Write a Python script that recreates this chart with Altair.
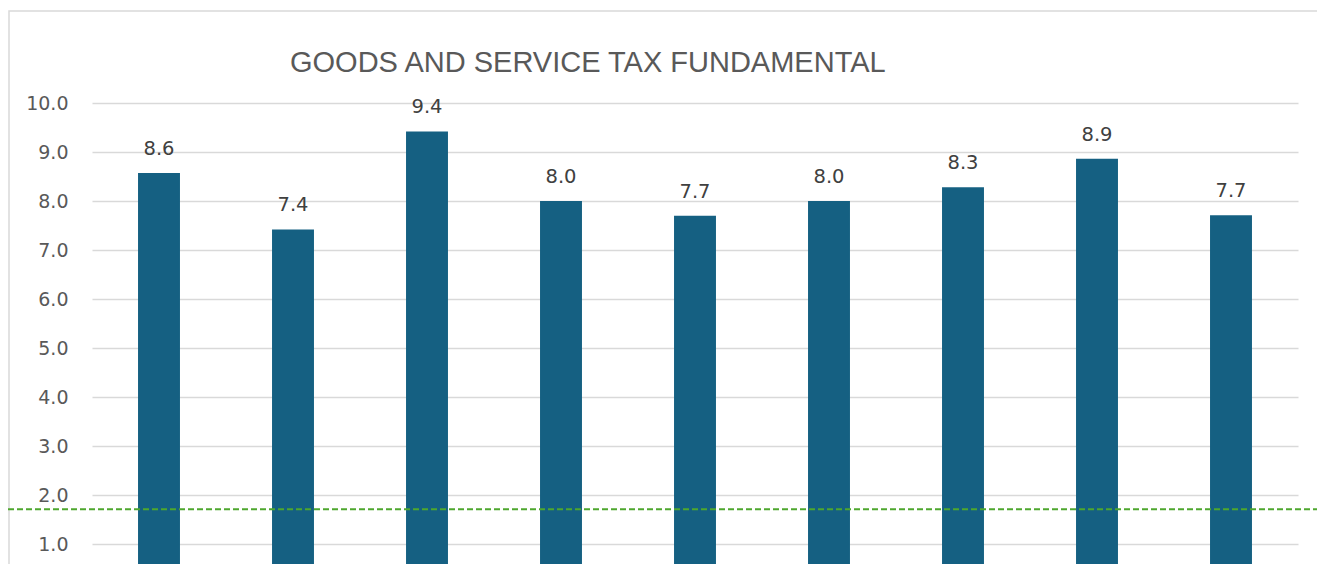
import altair as alt
import pandas as pd

# ---- data ----
categories = ["C1", "C2", "C3", "C4", "C5", "C6", "C7", "C8", "C9"]
values = [8.57, 7.42, 9.42, 8.0, 7.7, 8.0, 8.28, 8.86, 7.71]
tick_values = [1, 2, 3, 4, 5, 6, 7, 8, 9, 10]
threshold = 1.71
title_text = "GOODS AND SERVICE TAX FUNDAMENTAL"

df = pd.DataFrame({"cat": categories, "val": values})

W = 1206
H = 461
Y_MAX = 10.0
Y_MIN = Y_MAX - H / 49.0  # plot continues below the visible crop

FONT = "DejaVu Sans"
TFONT = "Liberation Sans"
BAR = "#156082"
GREEN = "#4EA72E"
GRID = "#d9d9d9"
TXT = "#595959"

x_enc = alt.X("cat:N", sort=categories, axis=None,
              scale=alt.Scale(paddingInner=0.687, paddingOuter=0.3435))
y_scale = alt.Scale(domain=[Y_MIN, Y_MAX], nice=False, zero=False)

bars = alt.Chart(df).mark_bar(color=BAR, clip=True).encode(
    x=x_enc,
    y=alt.Y("val:Q", scale=y_scale,
            axis=alt.Axis(values=tick_values, format=".1f", title=None,
                          domain=False, ticks=False, labelPadding=24,
                          labelFontSize=19, labelColor=TXT, labelFont=FONT,
                          gridColor=GRID, gridWidth=1.3)),
)

labels = alt.Chart(df).mark_text(
    dy=-18, baseline="alphabetic", fontSize=19.5, font=FONT, color="#404040"
).encode(
    x=x_enc,
    y=alt.Y("val:Q", scale=y_scale),
    text=alt.Text("val:Q", format=".1f"),
)

one = alt.Data(values=[{"t": title_text, "th": threshold}])

rule = alt.Chart(one).mark_rule(
    color=GREEN, strokeDash=[6, 3], strokeWidth=2
).encode(
    y=alt.Y("th:Q", scale=y_scale),
    x=alt.value(-84),
    x2=alt.value(W + 19),
)

border = alt.Chart(one).mark_rect(
    fill="white", fillOpacity=0, stroke=GRID, strokeWidth=1.5
).encode(
    x=alt.value(-83), y=alt.value(-92),
    x2=alt.value(W + 40), y2=alt.value(H + 40),
)

title = alt.Chart(one).mark_text(
    align="left", baseline="alphabetic", fontSize=29, font=TFONT, color=TXT
).encode(
    x=alt.value(198), y=alt.value(-31), text="t:N"
)

chart = alt.layer(border, bars, labels, rule, title).properties(
    width=W, height=H,
    autosize=alt.AutoSizeParams(type="none"),
    padding={"left": 84, "top": 95, "right": 19, "bottom": 0},
    background="white",
).configure_view(stroke=None)

chart.save("out.html", embed_options={"renderer": "svg", "actions": False})
